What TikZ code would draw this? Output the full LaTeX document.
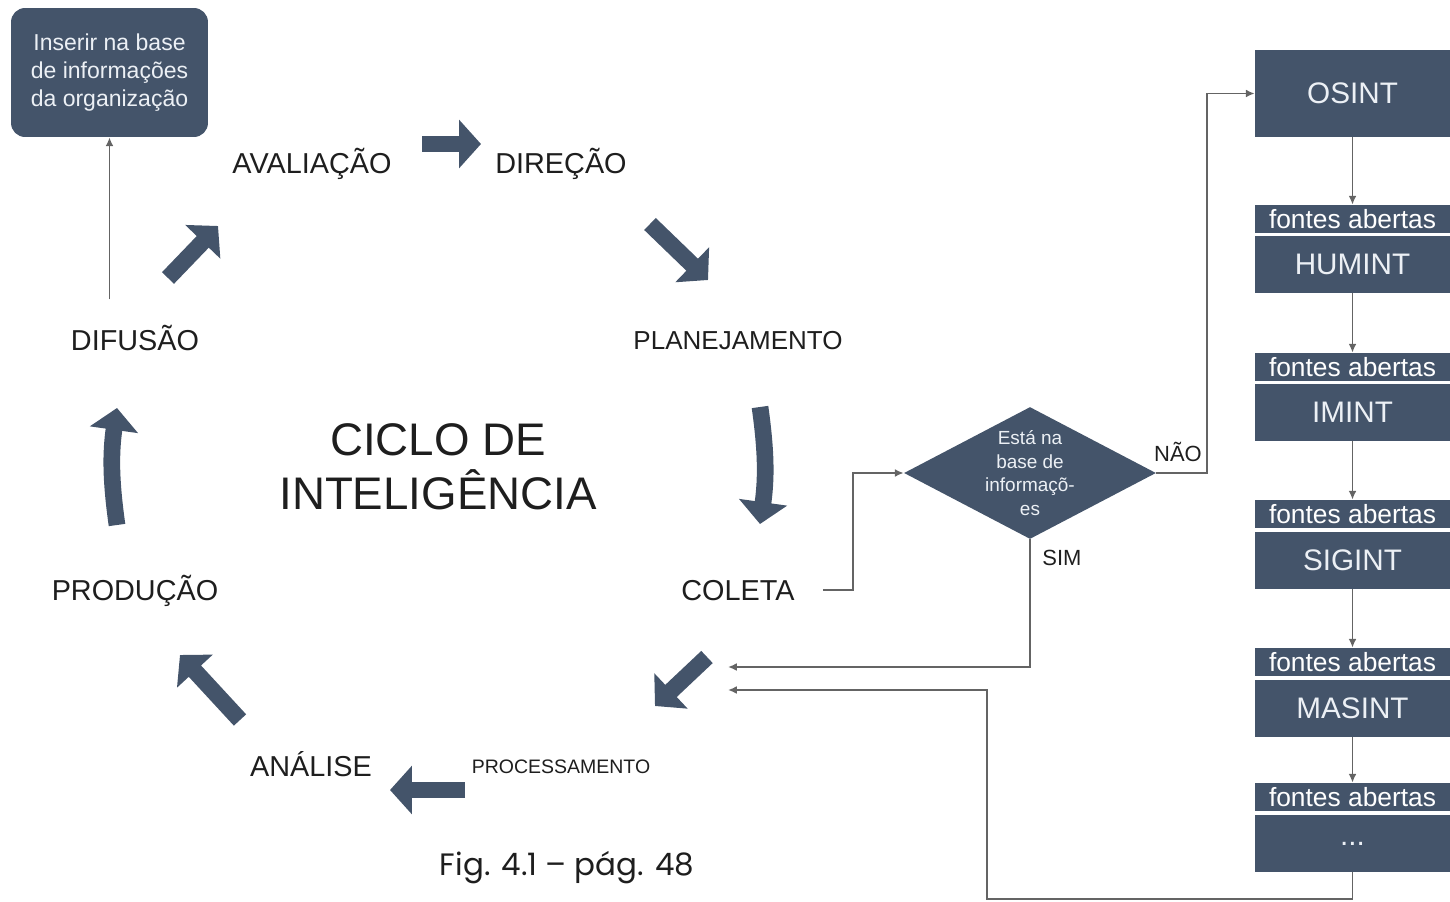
\documentclass[tikz,border=0pt]{standalone}
\usepackage{fontspec}
\setmainfont{Liberation Sans}
\newfontfamily\capfont{Poppins}
\usetikzlibrary{arrows.meta,shapes.geometric,calc,positioning}
\definecolor{slate}{RGB}{68,84,106}
\definecolor{linegray}{RGB}{100,100,100}
\definecolor{txtgray}{RGB}{30,30,30}
\definecolor{boxtext}{RGB}{236,240,245}
\tikzset{stage/.style = {text=txtgray, inner sep=0pt, font=\fontsize{16.4}{19}\selectfont, text height=11.8pt, text depth=0pt}}
\tikzset{smallstage/.style = {stage, font=\fontsize{14.8}{17}\selectfont, text height=10.6pt}}
\tikzset{tinystage/.style = {stage, font=\fontsize{11.1}{13}\selectfont, text height=8pt}}
\tikzset{infobox/.style = {fill=slate, text=boxtext, rounded corners=8pt, minimum width=3.94cm, minimum height=2.58cm, align=center, font=\fontsize{13.1}{15.9}\selectfont}}
\tikzset{source/.style = {fill=slate, text=boxtext, inner sep=0pt, minimum width=3.9cm, minimum height=1.14cm, font=\fontsize{16.9}{19}\selectfont}}
\tikzset{strip/.style = {fill=slate, text=white, inner sep=0pt, minimum width=3.9cm, minimum height=0.56cm, font=\fontsize{15}{17}\selectfont}}
\tikzset{decision/.style = {shape=diamond, fill=slate, text=boxtext, aspect=1.9, inner sep=0pt, minimum width=5.04cm, minimum height=2.62cm, align=center, font=\fontsize{10.8}{13.4}\selectfont}}
\tikzset{link/.style = {draw=linegray, line width=1pt, -{Latex[length=5pt,width=4.5pt]}}}
\tikzset{blockarrow/.style = {draw=slate, line width=9.5pt, -{Triangle[length=12.5pt,width=27pt]}}}

\begin{document}
\begin{tikzpicture}[x=0.02cm,y=-0.02cm]
\useasboundingbox (0,0) rectangle (1450,902);
% stages of the cycle
\node[infobox] (base) at (109.5,72.5) {Inserir na base\\de informações\\da organização};
\node[stage] (aval) at (312,163) {AVALIAÇÃO};
\node[stage] (dire) at (561,163) {DIREÇÃO};
\node[smallstage] (plan) at (738,340) {PLANEJAMENTO};
\node[stage] (cole) at (738,590) {COLETA};
\node[tinystage] (proc) at (561,766) {PROCESSAMENTO};
\node[stage] (anal) at (311,766) {ANÁLISE};
\node[stage] (prod) at (135,590) {PRODUÇÃO};
\node[stage] (difu) at (135,340) {DIFUSÃO};
\node[text=txtgray, align=center, font=\fontsize{26}{31}\selectfont] (ciclo) at (438,467) {CICLO DE\\INTELIGÊNCIA};
\node[font=\capfont\fontsize{17.6}{20}\selectfont, text=txtgray] (fig) at (567,868) {Fig. 4.1 – pág. 48};

% decision
\node[decision] (quest) at (1030,473) {Está na\\base de\\informaçõ-\\es};
\node[font=\fontsize{12.5}{14}\selectfont, text=txtgray] (nao) at (1178,452) {NÃO};
\node[font=\fontsize{12.5}{14}\selectfont, text=txtgray] (sim) at (1062,558) {SIM};

% sources
\node[source, minimum height=1.74cm] (osint) at (1352.5,93.5) {OSINT};
\node[strip] (fa1) at (1352.5,219) {fontes abertas};
\node[source] (humint) at (1352.5,264.5) {HUMINT};
\node[strip] (fa2) at (1352.5,367) {fontes abertas};
\node[source] (imint) at (1352.5,412.5) {IMINT};
\node[strip] (fa3) at (1352.5,514) {fontes abertas};
\node[source] (sigint) at (1352.5,560.5) {SIGINT};
\node[strip] (fa4) at (1352.5,662) {fontes abertas};
\node[source] (masint) at (1352.5,708.5) {MASINT};
\node[strip] (fa5) at (1352.5,797) {fontes abertas};
\node[source] (more) at (1352.5,843.5) {...};

% ends of the cycle arrows
\coordinate (s1) at (422,144); \coordinate (e1) at (481,144);
\coordinate (s2) at (650,224); \coordinate (e2) at (708,280);
\coordinate (s3) at (760,407); \coordinate (e3) at (760,524);
\coordinate (s4) at (707,657); \coordinate (e4) at (655,706);
\coordinate (s5) at (465,790); \coordinate (e5) at (390,790);
\coordinate (s6) at (240,720); \coordinate (e6) at (180,655);
\coordinate (s7) at (117,525); \coordinate (e7) at (117,408);
\coordinate (s8) at (168,278); \coordinate (e8) at (218,226);
\coordinate (in1) at (728,667);
\coordinate (in2) at (728,690);

% cycle arrows
\draw[blockarrow] (s1) -- (e1);
\draw[blockarrow] (s2) -- (e2);
\draw[blockarrow] (s3) to[bend left=8] (e3);
\draw[blockarrow] (s4) -- (e4);
\draw[blockarrow] (s5) -- (e5);
\draw[blockarrow] (s6) -- (e6);
\draw[blockarrow] (s7) to[bend left=8] (e7);
\draw[blockarrow] (s8) -- (e8);

%edges
\draw[link] (base.south |- difu.north) ++(0,-30) -- (base.south);
\draw[link] ($(cole.east)+(28,0)$) -- ++(30,0) |- (quest.west);
\draw[link] (quest.east) -- ++(51,0) |- (osint.west);
\draw[link] (quest.south) |- (in1);
\draw[link] (more.south) -- ++(0,27) -| ($(in2)+(259,0)$) -- (in2);
\draw[link] (osint) to (fa1);
\draw[link] (humint) to (fa2);
\draw[link] (imint) to (fa3);
\draw[link] (sigint) to (fa4);
\draw[link] (masint) to (fa5);
\end{tikzpicture}
\end{document}
